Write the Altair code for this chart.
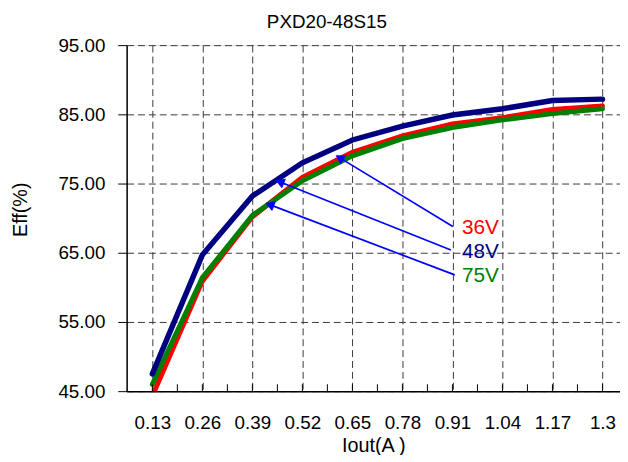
import math
import altair as alt
import pandas as pd

# ---- data ----
iout = [0.13, 0.26, 0.39, 0.52, 0.65, 0.78, 0.91, 1.04, 1.17, 1.3]
eff_36v = [44.3, 60.9, 70.2, 75.9, 79.5, 81.9, 83.6, 84.5, 85.7, 86.2]
eff_48v = [47.5, 64.7, 73.2, 78.0, 81.3, 83.3, 84.9, 85.8, 87.0, 87.2]
eff_75v = [46.0, 61.4, 70.4, 75.4, 79.0, 81.5, 83.1, 84.2, 85.1, 85.8]
series_names = ["36V", "48V", "75V"]
series_colors = ["#FF0000", "#000080", "#008000"]
y_ticks = [45, 55, 65, 75, 85, 95]

# annotation arrows (label end -> arrow tip), in data units
arrow_start_x = [0.911, 0.906, 0.916]
arrow_start_y = [68.8, 65.4, 61.8]
arrow_tip_x = [0.610, 0.454, 0.428]
arrow_tip_y = [78.96, 75.4, 72.1]
label_x = [0.935, 0.935, 0.935]
label_y = [68.5, 65.1, 61.6]

FONT = "Liberation Sans"
W, H = 499, 350
X_DOM = [0.0632, 1.3456]
Y_DOM = [45, 95]
px_x = W / (X_DOM[1] - X_DOM[0])
px_y = H / (Y_DOM[1] - Y_DOM[0])

xs = alt.Scale(domain=X_DOM, nice=False, zero=False)
ys = alt.Scale(domain=Y_DOM, nice=False, zero=False)

xaxis = alt.Axis(
    values=iout, labelExpr="toString(round(datum.value*100)/100)",
    grid=True, gridDash=[7, 4], gridColor="#3a3a3a",
    gridWidth=1, ticks=False, tickSize=0, domainColor="black", domainWidth=1.5,
    labelFont=FONT, labelFontSize=19, labelColor="black", labelBaseline="middle",
    labelPadding=32, labelFlush=False,
    title="Iout(A )", titleFont=FONT, titleFontSize=20, titleFontWeight="normal",
    titleColor="black", titleBaseline="middle", titleY=55,
)
yaxis = alt.Axis(
    values=y_ticks, format=".2f", grid=True, gridDash=[7, 4], gridColor="#3a3a3a",
    gridWidth=1, ticks=True, tickSize=9, tickColor="black", domainColor="black",
    domainWidth=1.5, labelFont=FONT, labelFontSize=19, labelColor="black",
    labelPadding=13, labelFlush=False,
    title="Eff(%)", titleFont=FONT, titleFontSize=20, titleFontWeight="normal",
    titleColor="black", titleAngle=270, titleAlign="center", titleBaseline="middle",
    titleX=-107, titleY=166,
)

X = alt.X("iout:Q", scale=xs, axis=xaxis)
Y = alt.Y("eff:Q", scale=ys, axis=yaxis)

series_vals = {"36V": eff_36v, "48V": eff_48v, "75V": eff_75v}
color_of = dict(zip(series_names, series_colors))

line_layers = []
for name, width in [("36V", 5), ("75V", 5), ("48V", 5.5)]:
    df = pd.DataFrame({"iout": iout, "eff": series_vals[name]})
    line_layers.append(
        alt.Chart(df).mark_line(color=color_of[name], strokeWidth=width,
                                clip=True, strokeCap="round")
        .encode(x=X, y=Y)
    )

# minor/major tick marks along bottom (pointing inward)
tick_pos = sorted(set(iout + [round((a + b) / 2, 3) for a, b in zip(iout[:-1], iout[1:])]
                      + [round(iout[-1] + (iout[1] - iout[0]) / 2, 3)]))
tick_df = pd.DataFrame({"iout": tick_pos})
ticks = alt.Chart(tick_df).mark_rule(color="black", strokeWidth=1).encode(
    x=X, y=alt.value(H), y2=alt.value(H - 7)
)

# arrows
angles, head_x, head_y = [], [], []
for sx, sy, tx, ty in zip(arrow_start_x, arrow_start_y, arrow_tip_x, arrow_tip_y):
    dx = (tx - sx) * px_x
    dy = -(ty - sy) * px_y  # screen coordinates
    n = math.hypot(dx, dy)
    ux, uy = dx / n, dy / n
    ang = math.degrees(math.atan2(ux, -uy)) % 360
    angles.append(ang)
    head_x.append(tx - 4.5 * ux / px_x)
    head_y.append(ty + 4.5 * uy / px_y)

arrow_df = pd.DataFrame({"iout": arrow_start_x, "eff": arrow_start_y,
                         "iout2": arrow_tip_x, "eff2": arrow_tip_y})
arrows = alt.Chart(arrow_df).mark_rule(color="#0000FF", strokeWidth=1.7).encode(
    x=X, y=Y, x2="iout2:Q", y2="eff2:Q"
)
head_df = pd.DataFrame({"iout": head_x, "eff": head_y, "ang": angles})
heads = alt.Chart(head_df).mark_point(
    shape="triangle", filled=True, color="#0000FF", size=115, opacity=1
).encode(x=X, y=Y, angle=alt.Angle("ang:Q", scale=None))

label_df = pd.DataFrame({"iout": label_x, "eff": label_y, "name": series_names,
                         "col": series_colors})
labels = alt.Chart(label_df).mark_text(
    align="left", baseline="middle", font=FONT, fontSize=21
).encode(x=X, y=Y, text="name:N", color=alt.Color("col:N", scale=None))

chart = alt.layer(*line_layers, ticks, arrows, heads, labels).properties(
    width=W, height=H,
    title=alt.TitleParams(text="PXD20-48S15", font=FONT, fontSize=19,
                          fontWeight="normal", color="black", anchor="middle",
                          dx=-47, offset=4),
    autosize=alt.AutoSizeParams(type="none"),
    padding={"left": 120, "top": 35, "right": 0, "bottom": 62},
).configure_view(stroke="#808080", strokeWidth=1.5).configure(background="white")

chart.save("out.html", embed_options={"renderer": "svg", "actions": False})
